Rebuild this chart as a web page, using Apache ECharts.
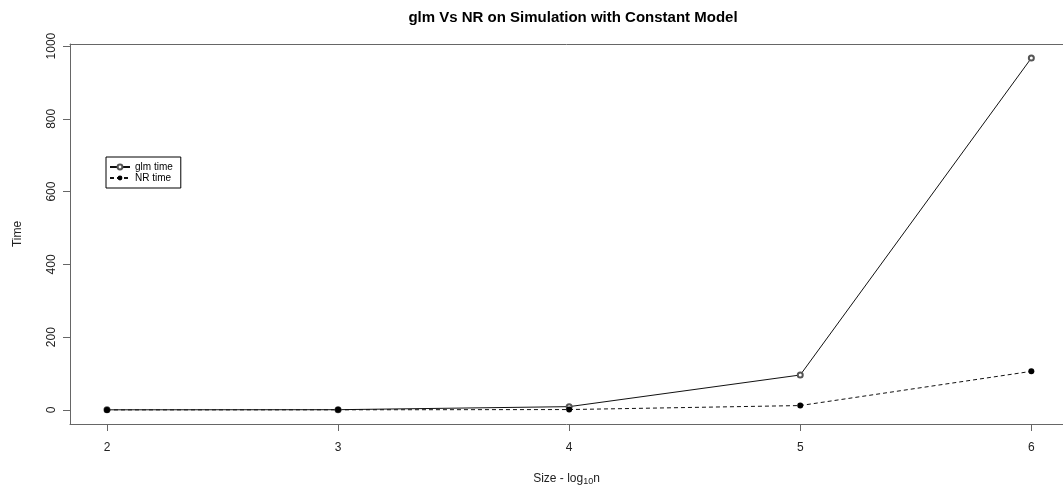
<!DOCTYPE html>
<html>
<head>
<meta charset="utf-8">
<script src="https://cdn.jsdelivr.net/npm/echarts@6/dist/echarts.min.js"></script>
<style>
html,body{margin:0;padding:0;background:#fff;}
#chart{width:1063px;height:493px;}
</style>
</head>
<body>
<div id="chart"></div>
<script>
const sizes = [2, 3, 4, 5, 6];
const glmTime = [0.3, 0.6, 9, 96, 967];
const nrTime = [0.1, 0.3, 1, 12, 106];
const yTicks = [0, 200, 400, 600, 800, 1000];
const xTicks = [2, 3, 4, 5, 6];

const font = 'Liberation Sans, Arial, sans-serif';
const chart = echarts.init(document.getElementById('chart'), null, {renderer: 'canvas'});
chart.setOption({
  animation: false,
  backgroundColor: '#fff',
  title: {
    text: 'glm Vs NR on Simulation with Constant Model',
    left: 568, top: 5, textAlign: 'center',
    textStyle: {fontFamily: font, fontSize: 15, fontWeight: 'bold', color: '#000'}
  },
  legend: {
    left: 106, top: 157, orient: 'vertical',
    borderColor: '#000', borderWidth: 1, borderRadius: 0,
    padding: [5, 8, 5, 3],
    itemWidth: 20, itemHeight: 6, itemGap: 1,
    textStyle: {fontFamily: font, fontSize: 10, color: '#000'},
    data: ['glm time', 'NR time']
  },
  grid: {
    left: 70, right: 0, top: 44, bottom: 69,
    outerBoundsMode: 'none', containLabel: false,
    show: false
  },
  xAxis: [{
    type: 'value', min: 1.84, max: 6.137, position: 'bottom',
    axisLine: {show: true, onZero: false, lineStyle: {color: '#666', width: 1}},
    splitLine: {show: false},
    axisTick: {show: true, inside: false, length: 7, customValues: xTicks, lineStyle: {color: '#666'}},
    axisLabel: {customValues: xTicks, margin: 18, fontFamily: font, fontSize: 12, color: '#222'},
    name: '{a|Size - log}{s|10}{a|n}',
    nameLocation: 'middle', nameGap: 47,
    nameTextStyle: {
      rich: {
        a: {fontFamily: font, fontSize: 12, color: '#222'},
        s: {fontFamily: font, fontSize: 9, color: '#222', verticalAlign: 'bottom', padding: [6, 0, 0, 0]}
      }
    }
  }, {
    type: 'value', min: 1.84, max: 6.137, position: 'top',
    axisLine: {show: true, onZero: false, lineStyle: {color: '#666', width: 1}},
    splitLine: {show: false}, axisTick: {show: false}, axisLabel: {show: false}
  }],
  yAxis: {
    type: 'value', min: -38.7, max: 1005.7, position: 'left',
    axisLine: {show: true, onZero: false, lineStyle: {color: '#666', width: 1}},
    splitLine: {show: false},
    axisTick: {show: true, inside: false, length: 7, customValues: yTicks, lineStyle: {color: '#666'}},
    axisLabel: {customValues: yTicks, rotate: 90, margin: 12, fontFamily: font, fontSize: 12, color: '#222',
      formatter: v => String(v)},
    name: 'Time', nameLocation: 'middle', nameGap: 46,
    nameTextStyle: {fontFamily: font, fontSize: 12, color: '#222'}
  },
  series: [
    {
      name: 'glm time', type: 'line', xAxisIndex: 0,
      data: sizes.map((x, i) => [x, glmTime[i]]),
      symbol: 'emptyCircle', symbolSize: 5,
      lineStyle: {color: '#111', width: 1, type: 'solid'},
      itemStyle: {color: '#555', borderColor: '#555', borderWidth: 1}
    },
    {
      name: 'NR time', type: 'line', xAxisIndex: 0,
      data: sizes.map((x, i) => [x, nrTime[i]]),
      symbol: 'circle', symbolSize: 6,
      lineStyle: {color: '#111', width: 1, type: [4, 3]},
      itemStyle: {color: '#000'}
    }
  ]
});
</script>
</body>
</html>
